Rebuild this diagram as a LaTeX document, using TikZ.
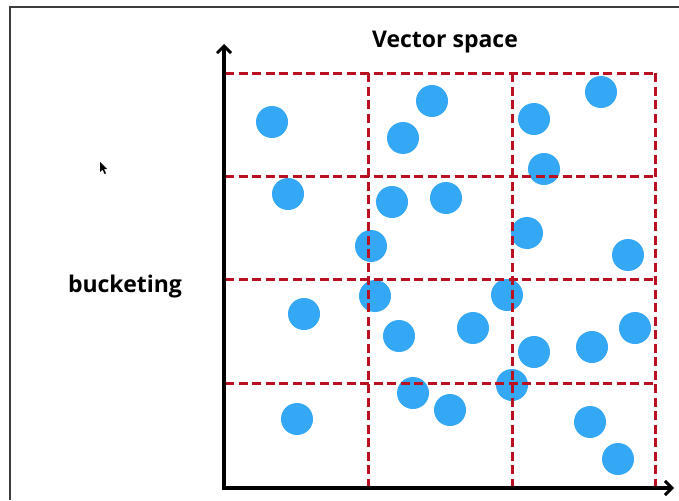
\documentclass[tikz,border=0pt]{standalone}
\usepackage{fontspec}
\setmainfont{Open Sans}
\usetikzlibrary{arrows.meta,calc}
\definecolor{dotblue}{RGB}{52,168,245}
\definecolor{gridred}{RGB}{185,16,34}
\definecolor{framegray}{RGB}{60,60,60}
\begin{document}
\begin{tikzpicture}[x=1pt,y=-1pt,
  dot/.style={circle,fill=dotblue,draw=none,minimum size=32pt,inner sep=0pt},
  gridline/.style={gridred,line width=3pt,dash pattern=on 9pt off 4.5pt},
  axis/.style={black,line width=3.6pt,-{Straight Barb[length=7pt,width=14pt,line width=3pt]}},
  lbl/.style={font=\bfseries\fontsize{23}{27}\selectfont,inner sep=0pt}]
\useasboundingbox (0,0) rectangle (679,500);
\fill[white] (0,0) rectangle (679,500);
% frame edges of the screenshot
\draw[framegray,line width=1.4pt] (10,500) -- (10,7) -- (679,7);
% dots
\foreach \n/\x/\y in {a/272/122, b/432/101, c/403/138, d/534/119, e/601/92,
  f/544/169, g/288/194, h/392/202, i/446/198, j/371/246, k/527/233, l/628/255,
  m/304/314, n/375/296, o/507/295, p/399/336, q/473/328, r/635/328, s/534/352,
  t/592/347, u/297/419, v/413/393, w/450/410, x/512/385, y/590/422, z/618/459}
  \node[dot] (d\n) at (\x,\y) {};
% grid
\coordinate (g00) at (225,73.5);
\coordinate (g30) at (655,73.5);
\coordinate (g01) at (225,176);
\coordinate (g31) at (655,176);
\coordinate (g02) at (225,279.5);
\coordinate (g32) at (655,279.5);
\coordinate (g03) at (225,383);
\coordinate (g33) at (655,383);
\coordinate (v1t) at (368,73.5);
\coordinate (v1b) at (368,487);
\coordinate (v2t) at (512,73.5);
\coordinate (v2b) at (512,487);
\coordinate (v3b) at (655,487);
\draw[gridline] (g00) -- (g30);
\draw[gridline] (g01) -- (g31);
\draw[gridline] (g02) -- (g32);
\draw[gridline] (g03) -- (g33);
\draw[gridline] (v1t) -- (v1b);
\draw[gridline] (v2t) -- (v2b);
\draw[gridline] (g30) -- (v3b);
% axes
\coordinate (o) at (224,488);
\coordinate (ytip) at (224,44);
\coordinate (xtip) at (674,488);
\draw[axis] ($(o)+(0,1.8)$) -- (ytip);
\draw[axis] ($(o)+(-1.8,0)$) -- (xtip);
% labels
\node[lbl] (title) at (445,42.5) {Vector space};
\node[lbl] (bucket) at (125,286.5) {bucketing};
% mouse pointer
\fill[black] (100,162) -- (100,172) -- (102.5,169.5) -- (104.5,174) -- (106,173.3) -- (104,169) -- (107,169) -- cycle;
\end{tikzpicture}
\end{document}
